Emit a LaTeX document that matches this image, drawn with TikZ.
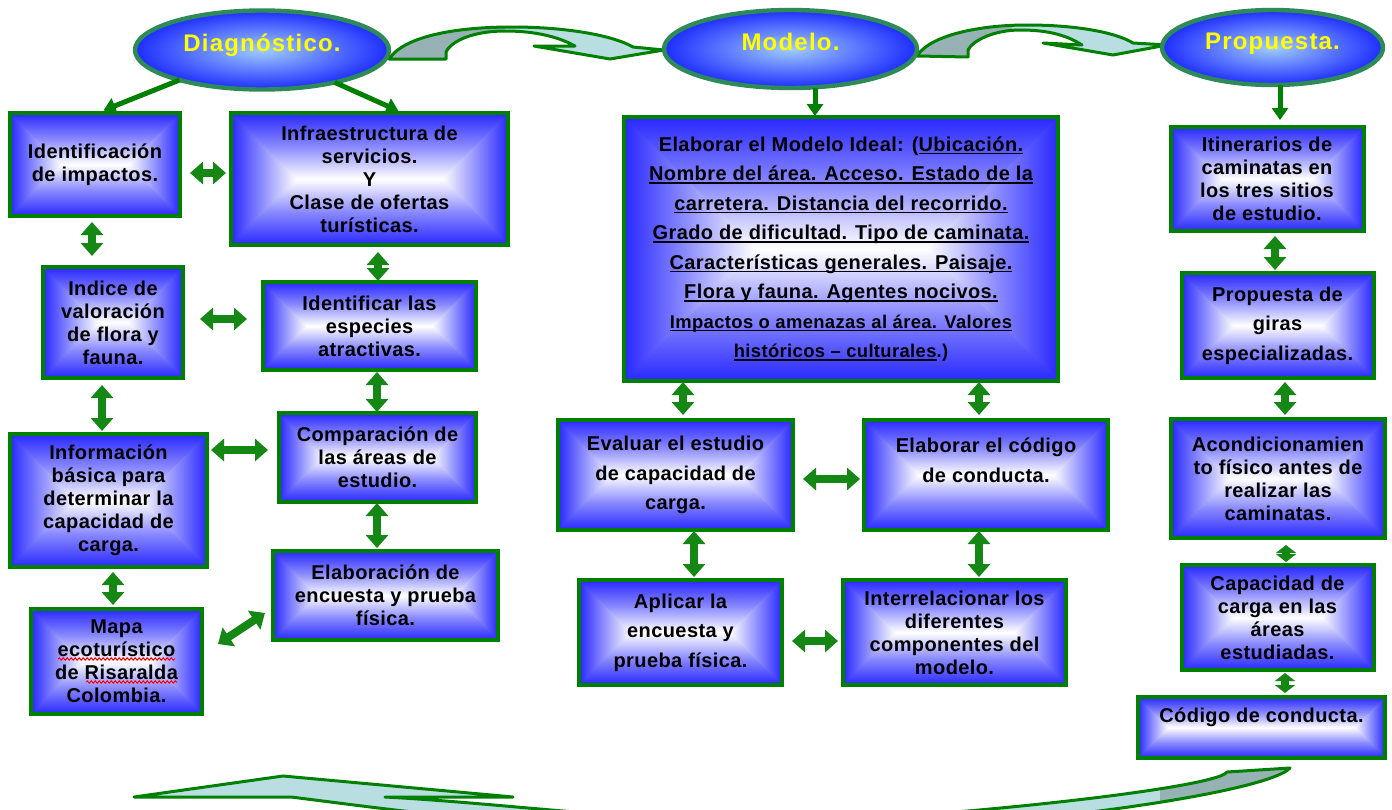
\documentclass[tikz,border=0pt]{standalone}
\usepackage{fontspec}
\setmainfont{Liberation Sans}[LetterSpace=2]
\newfontfamily\titlef{Liberation Sans}[LetterSpace=5]
\newcommand\uln[1]{\setbox0\hbox{#1}\rlap{\rule[-1.6pt]{\wd0}{0.7pt}}\box0}
\usetikzlibrary{arrows.meta,shapes.geometric,decorations.pathmorphing,calc}
\definecolor{bxblue}{RGB}{40,40,255}
\colorlet{bxmid}{bxblue!55!white}
\definecolor{elblue}{RGB}{30,45,255}
\definecolor{ellight}{RGB}{160,205,255}
\definecolor{bxgreen}{RGB}{0,128,0}
\definecolor{elgreen}{RGB}{46,139,87}
\definecolor{argreen}{RGB}{20,135,20}
\definecolor{ttyellow}{RGB}{255,255,0}
\definecolor{cagray}{RGB}{150,178,180}
\definecolor{cacyan}{RGB}{184,222,226}
\pgfdeclareverticalshading{bxvert}{100bp}{color(0bp)=(bxblue); color(25bp)=(bxblue); color(37.5bp)=(bxmid); color(50bp)=(white); color(62.5bp)=(bxmid); color(75bp)=(bxblue); color(100bp)=(bxblue)}
\tikzset{
  gbox/.style={draw=bxgreen, line width=2pt, inner sep=0pt, outer sep=0pt, align=center,
    font=\bfseries\fontsize{10}{11.5}\selectfont,
    path picture={
      \shade[shading=bxvert] (path picture bounding box.south west) rectangle (path picture bounding box.north east);
      \shade[left color=bxblue, middle color=bxmid, right color=white] (path picture bounding box.north west) -- (path picture bounding box.south west) -- ($(path picture bounding box.west)!1!-90:(path picture bounding box.north west)$) -- cycle;
      \shade[left color=white, middle color=bxmid, right color=bxblue] (path picture bounding box.north east) -- (path picture bounding box.south east) -- ($(path picture bounding box.east)!1!90:(path picture bounding box.north east)$) -- cycle;
    }},
  loose/.style={font=\bfseries\fontsize{10}{14.75}\selectfont},
  ell/.style={ellipse, draw=elgreen, line width=2.2pt, inner color=ellight, outer color=elblue,
    inner sep=0pt, outer sep=0pt, text=ttyellow, font=\titlef\bfseries\fontsize{12}{14}\selectfont,
    text height=6.5pt, text depth=5pt},
  dbl/.style={draw=argreen, line width=4pt, {Triangle[length=6.5pt,width=11pt]}-{Triangle[length=6.5pt,width=11pt]}},
  dbls/.style={draw=argreen, line width=4pt, {Triangle[length=4pt,width=10pt]}-{Triangle[length=4pt,width=10pt]}},
  sgl/.style={draw=bxgreen, line width=2.5pt, -{Triangle[length=6pt,width=8pt]}},
  squig/.style={draw=red, line width=0.5pt, decorate, decoration={snake, amplitude=0.6pt, segment length=2pt}},
  cline/.style={draw=bxgreen, line width=1.5pt, line join=round}
}
\newcommand\cArrowOne[1]{\path[#1] (389,59) .. controls (405,35) and (460,27) .. (512,27) .. controls (565,27) and (612,35) .. (633,47) -- (664,50) -- (610,59) -- (534,46) -- (575,46) .. controls (555,35) and (530,31) .. (505,31) .. controls (475,31) and (452,40) .. (446,52) -- (446,59) -- cycle;}
\newcommand\cArrowTwo[1]{\path[#1] (917,56) .. controls (930,35) and (980,25) .. (1027,25) .. controls (1075,25) and (1115,32) .. (1133,43) -- (1167,45) -- (1113,55) -- (1043,43) -- (1082,45) .. controls (1065,34) and (1045,30) .. (1020,30) .. controls (995,30) and (973,40) .. (968,50) -- (968,57) -- cycle;}
\newcommand\cArrowThree[1]{\path[#1] (134,797) -- (283,776) -- (513,797) -- (385,797) .. controls (500,803) and (640,822) .. (770,822) .. controls (900,822) and (1215,790) .. (1227,772) -- (1290,768) .. controls (1265,795) and (980,834) .. (760,834) .. controls (560,834) and (380,808) .. (291,797) -- cycle;}
\begin{document}
\begin{tikzpicture}[x=0.5pt, y=-0.5pt]
\useasboundingbox (0,0) rectangle (1392,809);
\fill[white] (0,0) rectangle (1392,809);

% curved arrows
\cArrowOne{fill=cacyan}
\begin{scope}\clip (0,0) rectangle (505,100); \cArrowOne{fill=cagray} \end{scope}
\cArrowOne{cline}
\cArrowTwo{fill=cacyan}
\begin{scope}\clip (0,0) rectangle (1012,100); \cArrowTwo{fill=cagray} \end{scope}
\cArrowTwo{cline}
\begin{scope}
\clip (0,0) rectangle (1392,809);
\cArrowThree{fill=cacyan}
\begin{scope}\clip (1160,700) rectangle (1392,809); \cArrowThree{fill=cagray} \end{scope}
\cArrowThree{cline}
\end{scope}

% ellipses
\node[ell, minimum width=127pt, minimum height=39.5pt] (diag) at (262,50) {Diagnóstico.};
\node[ell, minimum width=126.5pt, minimum height=39pt] (modl) at (790.5,49) {Modelo.};
\node[ell, minimum width=110.5pt, minimum height=37.5pt] (prop) at (1272.5,47.5) {Propuesta.};

% boxes - Diagnostico
\node[gbox, minimum width=85pt, minimum height=51.5pt] (idimp) at (95,164.5) {Identificación\\de impactos.};
\node[gbox, minimum width=138.5pt, minimum height=66pt] (infra) at (369.5,179) {Infraestructura de\\servicios.\\Y\\Clase de ofertas\\turísticas.};
\node[gbox, minimum width=70pt, minimum height=55.5pt] (indice) at (113,322.5) {Indice de\\valoración\\de flora y\\fauna.};
\node[gbox, minimum width=106.5pt, minimum height=44pt] (espec) at (369.5,326) {Identificar las\\especies\\atractivas.};
\node[gbox, minimum width=98.5pt, minimum height=66.5pt] (infob) at (108.5,500.5) {Información\\básica para\\determinar la\\capacidad de\\carga.};
\node[gbox, minimum width=98.5pt, minimum height=44.5pt] (compar) at (377.5,457.5) {Comparación de\\las áreas de\\estudio.};
\node[gbox, minimum width=112.5pt, minimum height=44.5pt] (encu) at (385.5,595.5) {Elaboración de\\encuesta y prueba\\física.};
\node[gbox, minimum width=85.5pt, minimum height=52.5pt] (mapa) at (116.5,661.5) {Mapa\\ecoturístico\\de Risaralda\\Colombia.};
\draw[squig] (58,659) -- (175,659);
\draw[squig] (86,682) -- (177,682);

% boxes - Modelo
\node[gbox, loose, minimum width=217pt, minimum height=132pt] (modb) at (841,249) {Elaborar el Modelo Ideal: (\uln{Ubicación.}\\
\uln{Nombre del área. Acceso. Estado de la}\\
\uln{carretera. Distancia del recorrido.}\\
\uln{Grado de dificultad. Tipo de caminata.}\\
\uln{Características generales. Paisaje.}\\
\uln{Flora y fauna. Agentes nocivos.}\\
{\fontsize{9.2}{14.75}\selectfont\uln{Impactos o amenazas al área. Valores}}\\
{\fontsize{9.2}{14.75}\selectfont\uln{históricos – culturales}.)}};
\node[gbox, loose, minimum width=117.5pt, minimum height=55pt] (evalu) at (675.5,475) {Evaluar el estudio\\de capacidad de\\carga.};
\node[gbox, loose, minimum width=122pt, minimum height=55pt] (codig) at (986,475) {Elaborar el código\\de conducta.\\\mbox{}};
\node[gbox, loose, minimum width=101.5pt, minimum height=52.5pt] (aplic) at (680.5,632.5) {Aplicar la\\encuesta y\\prueba física.};
\node[gbox, minimum width=111.5pt, minimum height=52.5pt] (inter) at (954.5,632.5) {Interrelacionar los\\diferentes\\componentes del\\modelo.};

% boxes - Propuesta
\node[gbox, minimum width=96.5pt, minimum height=52pt] (itin) at (1267,179) {Itinerarios de\\caminatas en\\los tres sitios\\de estudio.};
\node[gbox, loose, minimum width=96pt, minimum height=52.5pt] (giras) at (1277.5,325.5) {Propuesta de\\giras\\especializadas.};
\node[gbox, minimum width=107pt, minimum height=59.5pt] (acond) at (1278,478.5) {Acondicionamien\\to físico antes de\\realizar las\\caminatas.};
\node[gbox, minimum width=96pt, minimum height=52.5pt] (capac) at (1277.5,617.5) {Capacidad de\\carga en las\\áreas\\estudiadas.};
\node[gbox, minimum width=123.5pt, minimum height=30.5pt, text height=8pt, text depth=13pt] (codc) at (1261.5,727.5) {Código de conducta.};

% single arrows from ellipses
\draw[sgl, shorten >=3.5pt] (diag.200) -- (idimp.north -| 97,0);
\draw[sgl, shorten >=2.5pt] (diag.336) -- (infra.north -| 403,0);
\draw[sgl, shorten >=0.5pt] (modl.south -| 815,0) -- (modb.north -| 815,0);
\draw[sgl, shorten >=3.5pt] (prop.south -| 1280,0) -- (itin.north -| 1280,0);

% double arrows - Diagnostico
\draw[dbl, shorten <=5pt, shorten >=2.5pt] (idimp.east |- 0,173) -- (infra.west |- 0,173);
\draw[dbl, shorten <=3pt, shorten >=5.5pt] (idimp.south -| 92,0) -- (indice.north -| 92,0);
\draw[dbl, shorten <=3.5pt, shorten >=0.5pt] (infra.south -| 378,0) -- (espec.north -| 378,0);
\draw[dbl, shorten <=8.5pt, shorten >=8pt] (indice.east |- 0,319) -- (espec.west |- 0,319);
\draw[dbl, shorten <=3.5pt, shorten >=1.5pt] (indice.south -| 102,0) -- (infob.north -| 102,0);
\draw[dbl, shorten <=1pt, shorten >=0.5pt] (espec.south -| 377,0) -- (compar.north -| 377,0);
\draw[dbl, shorten <=2pt, shorten >=5.5pt] (infob.east |- 0,450) -- (compar.west |- 0,450);
\draw[dbl, shorten <=0.5pt, shorten >=1.5pt] (compar.south -| 377,0) -- (encu.north -| 377,0);
\draw[dbl, shorten <=2.5pt, shorten >=2pt] (infob.south -| 113,0) -- (mapa.north -| 113,0);
\draw[dbl] ($(mapa.east)+(16,-17.5)$) -- ($(encu.west)+(-8,17.5)$);

% double arrows - Modelo
\draw[dbl, shorten <=0.5pt, shorten >=2.5pt] (modb.south -| 683,0) -- (evalu.north -| 683,0);
\draw[dbl, shorten <=0.5pt, shorten >=2.5pt] (modb.south -| 979,0) -- (codig.north -| 979,0);
\draw[dbl, shorten <=5pt, shorten >=2pt] (evalu.east |- 0,479) -- (codig.west |- 0,479);
\draw[dbl, shorten <=0.5pt, shorten >=1.5pt] (evalu.south -| 694,0) -- (aplic.north -| 694,0);
\draw[dbl, shorten <=0.5pt, shorten >=1.5pt] (codig.south -| 979,0) -- (inter.north -| 979,0);
\draw[dbl, shorten <=5pt, shorten >=2.5pt] (aplic.east |- 0,641) -- (inter.west |- 0,641);

% double arrows - Propuesta
\draw[dbl, shorten <=2.5pt, shorten >=1.5pt] (itin.south -| 1275,0) -- (giras.north -| 1275,0);
\draw[dbl, shorten <=2pt, shorten >=2pt] (giras.south -| 1285,0) -- (acond.north -| 1285,0);
\draw[dbls, shorten <=3.5pt, shorten >=1.5pt] (acond.south -| 1286,0) -- (capac.north -| 1286,0);
\draw[dbls, shorten <=1.5pt, shorten >=2pt] (capac.south -| 1285,0) -- (codc.north -| 1285,0);
\end{tikzpicture}
\end{document}
